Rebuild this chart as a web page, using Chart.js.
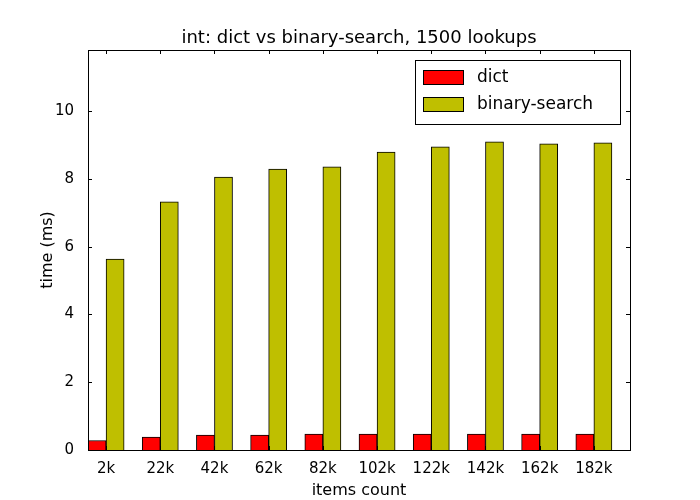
<!DOCTYPE html>
<html><head><script src="https://cdn.jsdelivr.net/npm/chart.js@4"></script>
<style>body{margin:0;background:#fff}</style></head>
<body><div style="width:700px;height:500px"><canvas id="c"></canvas></div>
<script>
const categories=['2k','22k','42k','62k','82k','102k','122k','142k','162k','182k'];
const dictValues=[0.28,0.38,0.44,0.44,0.47,0.47,0.47,0.47,0.47,0.47];
const bsValues=[5.63,7.32,8.05,8.29,8.35,8.79,8.94,9.09,9.03,9.06];
const yTicks=[0,2,4,6,8,10];
const F='"DejaVu Sans"';
const frame={id:'frame',afterDraw(ch){const a=ch.chartArea,c=ch.ctx;c.save();
c.strokeStyle='#000';c.lineWidth=1;c.strokeRect(a.left+.5,a.top+.5,a.right-a.left,a.bottom-a.top);
c.fillStyle='#000';c.font='18px '+F;c.textAlign='center';c.textBaseline='alphabetic';
c.fillText('int: dict vs binary-search, 1500 lookups',(a.left+a.right)/2,43);
const xs=ch.scales.x,ys=ch.scales.y;c.beginPath();
categories.forEach((_,i)=>{const x=Math.round(xs.getPixelForValue(i+1/3))+.5;c.moveTo(x,a.bottom);c.lineTo(x,a.bottom-4);c.moveTo(x,a.top);c.lineTo(x,a.top+4);});
yTicks.forEach(v=>{const y=Math.round(ys.getPixelForValue(v))+.5;c.moveTo(a.left,y);c.lineTo(a.left+4,y);c.moveTo(a.right,y);c.lineTo(a.right-4,y);});
c.stroke();
const lx=415,ly=60,w=205,h=64;c.fillStyle='#fff';c.fillRect(lx,ly,w,h);c.strokeRect(lx+.5,ly+.5,w,h);
[['dict','#ff0000'],['binary-search','#bfbf00']].forEach((d,i)=>{const y=ly+10+i*27;c.fillStyle=d[1];c.fillRect(lx+8,y,40,14);c.strokeRect(lx+8.5,y+.5,40,14);
c.fillStyle='#000';c.font='17px '+F;c.textAlign='left';c.textBaseline='middle';c.fillText(d[0],lx+62,y+8);});
c.restore();}};
new Chart(document.getElementById('c'),{type:'bar',
data:{datasets:[
{label:'dict',data:dictValues.map((v,i)=>({x:i+1/6,y:v})),backgroundColor:'#ff0000',borderColor:'#000',borderWidth:1},
{label:'binary-search',data:bsValues.map((v,i)=>({x:i+1/2,y:v})),backgroundColor:'#bfbf00',borderColor:'#000',borderWidth:1}]},
options:{responsive:true,maintainAspectRatio:false,animation:false,
layout:{padding:{top:50,right:70,left:38,bottom:0}},
plugins:{legend:{display:false},title:{display:false},tooltip:{enabled:false}},
datasets:{bar:{grouped:false,categoryPercentage:1,barPercentage:1}},
scales:{
x:{type:'linear',offset:false,min:0,max:10,grid:{display:false},border:{display:false},
afterBuildTicks:s=>{s.ticks=categories.map((_,i)=>({value:i+1/3}));},
afterFit:s=>{s.height=50;},
ticks:{autoSkip:false,maxRotation:0,color:'#000',font:{family:F,size:15},padding:2,callback:(v)=>categories[Math.round(v-1/3)]},
title:{display:true,text:'items count',color:'#000',font:{family:F,size:16},padding:0}},
y:{min:0,max:11.8,grid:{display:false},border:{display:false},
afterBuildTicks:s=>{s.ticks=yTicks.map(v=>({value:v}));},
afterFit:s=>{s.width=50;},
ticks:{color:'#000',font:{family:F,size:15},padding:6},
title:{display:true,text:'time (ms)',color:'#000',font:{family:F,size:16},padding:0}}}},
plugins:[frame]});
</script></body></html>
